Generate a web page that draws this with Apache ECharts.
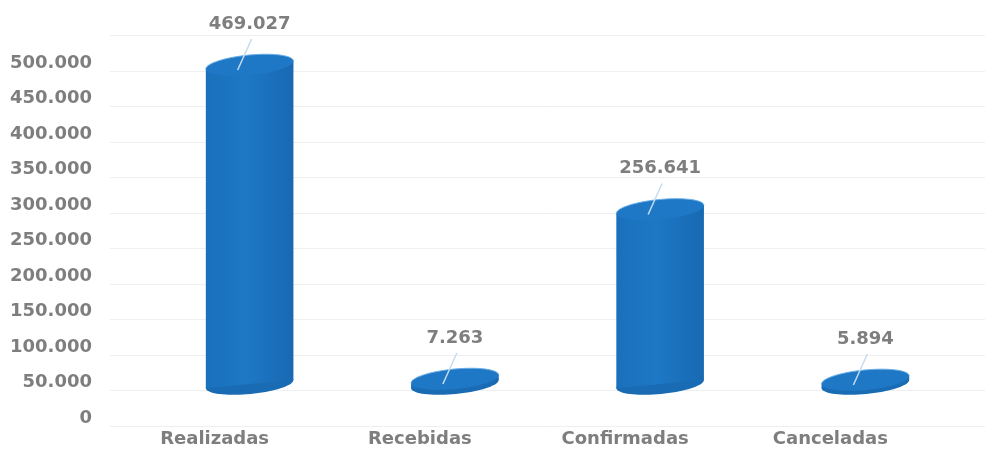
<!DOCTYPE html>
<html>
<head>
<meta charset="utf-8">
<script src="https://cdn.jsdelivr.net/npm/echarts@6/dist/echarts.min.js"></script>
<style>
  html, body { margin: 0; padding: 0; background: #ffffff; }
  #chart { width: 990px; height: 454px; }
</style>
</head>
<body>
<div id="chart"></div>
<script>
// Solicitações por situação
const categories = ['Realizadas', 'Recebidas', 'Confirmadas', 'Canceladas'];
const values = [469027, 7263, 256641, 5894];

// Value axis ticks
const axisMin = 0;
const axisMax = 500000;
const axisStep = 50000;

const FONT = 'DejaVu Sans';
const TEXT_COLOR = '#7e7e7e';

// 469027 -> "469.027"
function fmt(v) {
  return String(v).replace(/\B(?=(\d{3})+(?!\d))/g, '.');
}

// Cylinder geometry (pixels)
const RX = 44, RY = 10, TILT = 0.096;
const C = Math.cos(TILT), S = Math.sin(TILT);

function ellipsePoints(cx, cy, from, to) {
  const pts = [];
  const n = 72;
  for (let k = 0; k <= n; k++) {
    const t = from + (k / n) * (to - from);
    const x = RX * Math.cos(t), y = RY * Math.sin(t);
    pts.push([cx + x * C + y * S, cy - x * S + y * C]);
  }
  return pts;
}

function renderCylinder(params, api) {
  const i = api.value(0);
  const v = api.value(1);
  const base = api.coord([i, 0]);
  const top = api.coord([i, v]);
  const bx = base[0], by = base[1], tx = top[0], ty = top[1];

  const body = [
    [bx - RX * C, by + RX * S],
    [bx + RX * C, by - RX * S],
    [tx + RX * C, ty - RX * S],
    [tx - RX * C, ty + RX * S]
  ];

  const sideFill = {
    type: 'linear', x: 0, y: 0, x2: 1, y2: 0,
    colorStops: [
      { offset: 0, color: '#1a70bb' },
      { offset: 0.45, color: '#1e78c5' },
      { offset: 1, color: '#1869b2' }
    ]
  };

  return {
    type: 'group',
    children: [
      // bottom cap
      { type: 'polygon', shape: { points: ellipsePoints(bx, by, 0, Math.PI * 2) }, style: { fill: '#196bb4' } },
      // side
      { type: 'polygon', shape: { points: body }, style: { fill: sideFill } },
      // top cap
      { type: 'polygon', shape: { points: ellipsePoints(tx, ty, 0, Math.PI * 2) }, style: { fill: '#1f78c5' } },
      // light rim along the far edge of the top cap
      {
        type: 'polyline', shape: { points: ellipsePoints(tx, ty, Math.PI, Math.PI * 2) },
        style: { stroke: '#6aaee8', lineWidth: 1, fill: null }
      },
      // leader line to the value label
      {
        type: 'line',
        shape: { x1: tx + 2, y1: ty - 26, x2: tx - 12, y2: ty + 5 },
        style: { stroke: '#c4dcf2', lineWidth: 1.5 }
      },
      {
        type: 'text',
        x: tx, y: ty - 41,
        style: {
          text: fmt(v),
          x: 0, y: 0,
          align: 'center', verticalAlign: 'middle',
          font: 'bold 18px "' + FONT + '"',
          fill: TEXT_COLOR
        }
      }
    ]
  };
}

const chart = echarts.init(document.getElementById('chart'), null, { renderer: 'canvas' });

const labelStyle = { fontFamily: FONT, fontSize: 18, fontWeight: 'bold', color: TEXT_COLOR };

chart.setOption({
  backgroundColor: '#ffffff',
  animation: false,
  grid: [
    // tick labels
    { left: 110, right: 5, top: 27.5, bottom: 36 },
    // cylinders
    { left: 147, right: 22, top: 44, bottom: 70 },
    // back-wall grid lines
    { left: 110, right: 5, top: 35.5, bottom: 28 }
  ],
  xAxis: [
    { gridIndex: 0, type: 'category', data: categories, show: false },
    {
      gridIndex: 1, type: 'category', data: categories,
      axisLine: { show: false }, axisTick: { show: false },
      axisLabel: Object.assign({ margin: 46, padding: [0, 70, 0, 0] }, labelStyle)
    },
    { gridIndex: 2, type: 'category', data: categories, show: false }
  ],
  yAxis: [
    {
      gridIndex: 0, type: 'value',
      min: axisMin, max: axisMax + axisStep, interval: axisStep,
      axisLine: { show: false }, axisTick: { show: false },
      splitLine: { show: false },
      axisLabel: Object.assign({
        margin: 18,
        formatter: function (v) { return v > axisMax ? '' : fmt(v); }
      }, labelStyle)
    },
    { gridIndex: 1, type: 'value', min: axisMin, max: axisMax, show: false },
    {
      gridIndex: 2, type: 'value',
      min: axisMin, max: axisMax + axisStep, interval: axisStep,
      axisLine: { show: false }, axisTick: { show: false }, axisLabel: { show: false },
      splitLine: { lineStyle: { color: '#efefef', width: 1 } }
    }
  ],
  series: [
    {
      type: 'custom',
      xAxisIndex: 1, yAxisIndex: 1,
      clip: false,
      renderItem: renderCylinder,
      data: values.map(function (v, i) { return [i, v]; })
    }
  ]
});
</script>
</body>
</html>
